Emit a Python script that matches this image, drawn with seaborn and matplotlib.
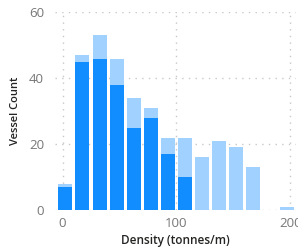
import numpy as np
import matplotlib
matplotlib.use("Agg")
import matplotlib.pyplot as plt
import seaborn as sns

# bins of 15 tonnes/m, first bin starts at -5
bin_edges = [-5, 10, 25, 40, 55, 70, 85, 100, 115, 130, 145, 160, 175, 190, 205]
all_vessels = [8, 47, 53, 46, 34, 31, 22, 22, 16, 21, 19, 13, 0, 1]
subset_vessels = [7, 45, 46, 38, 25, 28, 17, 10, 0, 0, 0, 0, 0, 0]
x_ticks = [0, 100, 200]
y_ticks = [0, 20, 40, 60]

light_blue = "#A0D1FF"
dark_blue = "#118DFF"

sns.set_style("white")
plt.rcParams['font.family'] = ['Open Sans', 'DejaVu Sans']

centers = [(a + b) / 2 for a, b in zip(bin_edges[:-1], bin_edges[1:])]

fig = plt.figure(figsize=(2.98, 2.49), dpi=100)
ax = fig.add_axes([0.185, 0.157, 0.808, 0.793])

# grid first so bars sit on top
for yv in y_ticks:
    ax.axhline(yv, color="#C8C8C8", lw=1, ls=(0, (1, 3.8)), zorder=0)
for xv in x_ticks:
    ax.axvline(xv, color="#C8C8C8", lw=1, ls=(0, (1, 3.8)), zorder=0)

sns.histplot(x=centers, weights=all_vessels, bins=bin_edges, color=light_blue,
             alpha=1, linewidth=0, shrink=0.82, ax=ax, zorder=2)
sns.histplot(x=centers, weights=subset_vessels, bins=bin_edges, color=dark_blue,
             alpha=1, linewidth=0, shrink=0.82, ax=ax, zorder=3)

ax.set_xlim(-6.5, 205)
ax.set_ylim(0, 60)
ax.set_xticks(x_ticks)
ax.set_yticks(y_ticks)
ax.tick_params(axis="both", length=0, labelsize=9.5, labelcolor="#777777")
ax.tick_params(axis="y", pad=8)
ax.tick_params(axis="x", pad=5)
for s in ax.spines.values():
    s.set_visible(False)

ax.set_xlabel("Density (tonnes/m)", fontsize=8.5, color="#252423", fontweight="semibold", labelpad=3)
ax.set_ylabel("Vessel Count", fontsize=8, color="#252423", fontweight="semibold", labelpad=6)

fig.savefig("out.png", dpi=100)
